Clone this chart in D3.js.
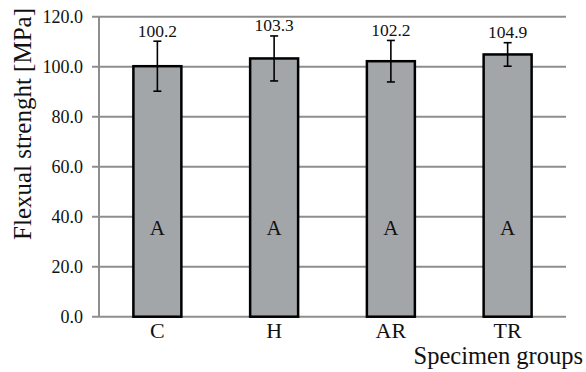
<!DOCTYPE html>
<html>
<head>
<meta charset="utf-8">
<script src="https://cdn.jsdelivr.net/npm/d3@7"></script>
<style>
  html, body { margin: 0; padding: 0; background: #fff; }
  svg { display: block; }
  text { font-family: "Liberation Serif", "Times New Roman", serif; fill: #111; }
</style>
</head>
<body>
<svg id="chart" width="586" height="372"></svg>
<script>
// Flexural strength per specimen group (mean ± SD)
const groups = ["C", "H", "AR", "TR"];
const means = [100.2, 103.3, 102.2, 104.9];
const errors = [10.0, 9.0, 8.3, 4.7];
const letters = ["A", "A", "A", "A"];
const yTicks = [0, 20, 40, 60, 80, 100, 120];

const svg = d3.select("#chart");
const plotLeft = 99, plotRight = 566, plotTop = 16.7, plotBottom = 316.7;

const x = d3.scaleBand().domain(groups).range([plotLeft, plotRight])
  .paddingInner(0.589).paddingOuter(0.2945);
const y = d3.scaleLinear().domain([0, 120]).range([plotBottom, plotTop]);

const grid = "#8e8e8e";

// horizontal gridlines with short ticks left of the axis
svg.append("g").selectAll("line").data(yTicks).join("line")
  .attr("x1", plotLeft - 7).attr("x2", plotRight)
  .attr("y1", d => y(d)).attr("y2", d => y(d))
  .attr("stroke", grid).attr("stroke-width", 2);

// vertical axis line
svg.append("line")
  .attr("x1", plotLeft).attr("x2", plotLeft)
  .attr("y1", y(120)).attr("y2", y(0))
  .attr("stroke", grid).attr("stroke-width", 2);

// y tick labels
svg.append("g").selectAll("text").data(yTicks).join("text")
  .attr("x", plotLeft - 16).attr("y", d => y(d) + 6)
  .attr("text-anchor", "end").attr("font-size", 18)
  .text(d => d3.format(".1f")(d));

// bars
svg.append("g").selectAll("rect").data(groups).join("rect")
  .attr("x", d => x(d)).attr("width", x.bandwidth())
  .attr("y", (d, i) => y(means[i]))
  .attr("height", (d, i) => y(0) - y(means[i]))
  .attr("fill", "#a3a6a9").attr("stroke", "#000").attr("stroke-width", 2.5);

// error bars
const eb = svg.append("g").attr("stroke", "#000").attr("stroke-width", 1.6);
groups.forEach((g, i) => {
  const cx = x(g) + x.bandwidth() / 2;
  const hi = y(means[i] + errors[i]), lo = y(means[i] - errors[i]);
  eb.append("line").attr("x1", cx).attr("x2", cx).attr("y1", hi).attr("y2", lo);
  eb.append("line").attr("x1", cx - 4).attr("x2", cx + 4).attr("y1", hi).attr("y2", hi);
  eb.append("line").attr("x1", cx - 4).attr("x2", cx + 4).attr("y1", lo).attr("y2", lo);
});

// value labels above the error bars
svg.append("g").selectAll("text").data(groups).join("text")
  .attr("x", d => x(d) + x.bandwidth() / 2)
  .attr("y", (d, i) => y(means[i] + errors[i]) - 4.5)
  .attr("text-anchor", "middle").attr("font-size", 17.5)
  .text((d, i) => means[i].toFixed(1));

// significance letters inside the bars
svg.append("g").selectAll("text").data(groups).join("text")
  .attr("x", d => x(d) + x.bandwidth() / 2)
  .attr("y", y(32.5))
  .attr("text-anchor", "middle").attr("font-size", 21)
  .text((d, i) => letters[i]);

// category labels
svg.append("g").selectAll("text").data(groups).join("text")
  .attr("x", d => x(d) + x.bandwidth() / 2)
  .attr("y", 338)
  .attr("text-anchor", "middle").attr("font-size", 22)
  .text(d => d);

// axis titles
svg.append("text")
  .attr("x", 583).attr("y", 364)
  .attr("text-anchor", "end").attr("font-size", 24.5)
  .text("Specimen groups");

svg.append("text")
  .attr("transform", `translate(31, ${124}) rotate(-90)`)
  .attr("text-anchor", "middle").attr("font-size", 25)
  .text("Flexual strenght [MPa]");
</script>
</body>
</html>
